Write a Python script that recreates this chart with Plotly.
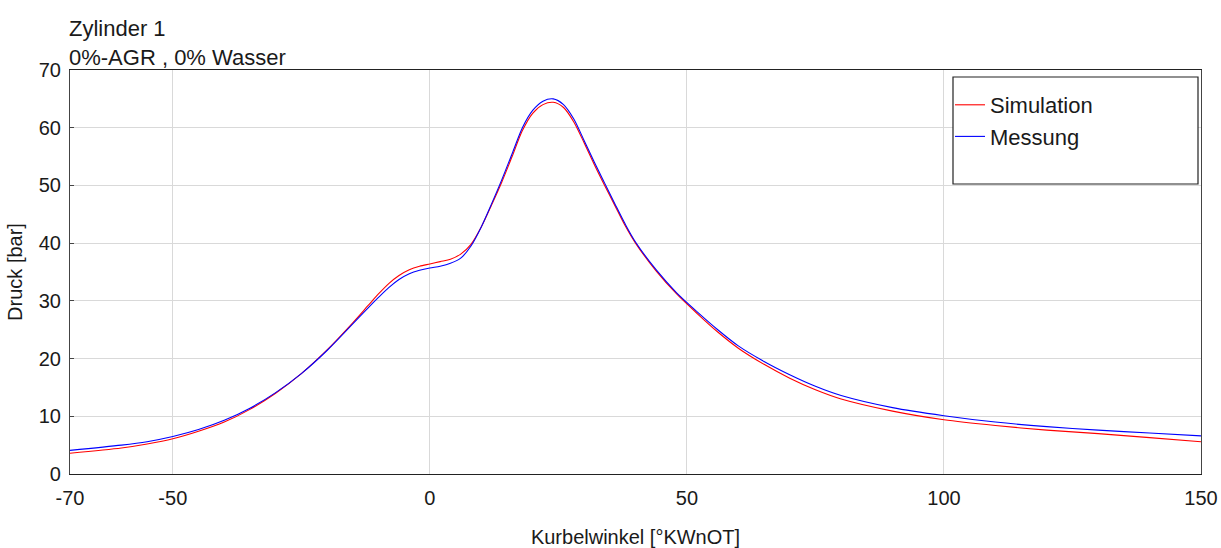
import plotly.graph_objects as go

# Crank angle [°KWnOT]
kurbelwinkel = [-70, -60, -55, -50, -45, -40, -35, -30, -25, -20, -15, -12, -10, -8, -6, -4, -2,
                0, 2, 4, 6, 8, 10, 12, 14, 16, 18, 20, 22, 24, 26, 28, 30, 32, 34, 36, 38, 40,
                44, 48, 52, 56, 60, 65, 70, 75, 80, 90, 100, 110, 120, 130, 140, 150]

simulation = [3.6, 4.5, 5.2, 6.1, 7.4, 9.0, 11.2, 14.0, 17.4, 21.5, 26.2, 29.2, 31.2, 33.0,
              34.4, 35.4, 36.0, 36.4, 36.8, 37.2, 38.1, 39.8, 42.8, 46.6, 50.6, 55.0, 59.5,
              62.5, 64.0, 64.4, 63.5, 61.0, 57.4, 53.6, 50.0, 46.5, 43.0, 40.0, 35.2, 31.2,
              27.8, 24.6, 21.8, 19.0, 16.6, 14.6, 13.0, 10.9, 9.4, 8.4, 7.6, 7.0, 6.3, 5.6]

messung = [4.1, 5.0, 5.6, 6.5, 7.7, 9.3, 11.4, 14.1, 17.4, 21.4, 26.0, 28.8, 30.6, 32.3,
           33.7, 34.7, 35.3, 35.7, 36.0, 36.5, 37.4, 39.5, 42.8, 46.8, 51.0, 55.5, 60.0,
           63.0, 64.6, 65.0, 64.0, 61.5, 57.8, 54.0, 50.4, 46.8, 43.3, 40.2, 35.4, 31.4,
           28.1, 25.0, 22.2, 19.5, 17.2, 15.2, 13.6, 11.5, 10.1, 9.0, 8.2, 7.6, 7.1, 6.6]

x_ticks = [-70, -50, 0, 50, 100, 150]
y_ticks = [0, 10, 20, 30, 40, 50, 60, 70]

FONT = "Liberation Sans, Arial, sans-serif"
W, H = 1221, 548
L, R, T, B = 70, 20, 70, 74
pw, ph = W - L - R, H - T - B

def px2paper(xp, yp):
    return (xp - L) / pw, (H - B - yp) / ph

fig = go.Figure()
fig.add_trace(go.Scatter(x=kurbelwinkel, y=simulation, mode="lines", name="Simulation",
                         line=dict(color="#ff0000", width=1.1, shape="spline", smoothing=0.8)))
fig.add_trace(go.Scatter(x=kurbelwinkel, y=messung, mode="lines", name="Messung",
                         line=dict(color="#0000ff", width=1.1, shape="spline", smoothing=0.8)))

bx0, by0 = px2paper(953, 184)
bx1, by1 = px2paper(1198, 77)
lx, ly = px2paper(950, 84)

fig.update_layout(
    width=W, height=H,
    margin=dict(l=L, r=R, t=T, b=B, autoexpand=False),
    paper_bgcolor="white", plot_bgcolor="white",
    font=dict(family=FONT, size=20, color="#1a1a1a"),
    showlegend=True,
    legend=dict(x=lx, y=ly, xanchor="left", yanchor="top", bgcolor="rgba(0,0,0,0)",
                borderwidth=0, font=dict(size=22, family=FONT, color="#1a1a1a"),
                itemwidth=30, tracegroupgap=0),
    shapes=[dict(type="rect", xref="paper", yref="paper", x0=bx0, y0=by0, x1=bx1, y1=by1,
                 line=dict(color="#222222", width=1.2), fillcolor="white", layer="above")],
    annotations=[dict(text="Zylinder 1<br>0%-AGR , 0% Wasser", xref="paper", yref="paper",
                      x=0, y=1, xanchor="left", yanchor="bottom", align="left",
                      showarrow=False, xshift=-3, yshift=-2,
                      font=dict(size=22, family=FONT, color="#1a1a1a"))],
    xaxis=dict(range=[-70, 150], tickvals=x_ticks, ticktext=[str(v) for v in x_ticks],
               showgrid=True, gridcolor="#d9d9d9", gridwidth=1, zeroline=False,
               showline=True, linecolor="#222222", linewidth=1.2, mirror=True,
               ticks="", ticklabelstandoff=6,
               title=dict(text="Kurbelwinkel [°KWnOT]", standoff=22,
                          font=dict(size=20, family=FONT)),
               automargin=False),
    yaxis=dict(range=[0, 70], tickvals=y_ticks, ticktext=[str(v) for v in y_ticks],
               showgrid=True, gridcolor="#d9d9d9", gridwidth=1, zeroline=False,
               showline=True, linecolor="#444444", linewidth=1.2, mirror=True,
               ticks="inside", ticklen=4, tickcolor="#444444", ticklabelstandoff=4,
               title=dict(text="Druck [bar]", standoff=10, font=dict(size=20, family=FONT)),
               automargin=False),
)

fig.write_html("out.html")
